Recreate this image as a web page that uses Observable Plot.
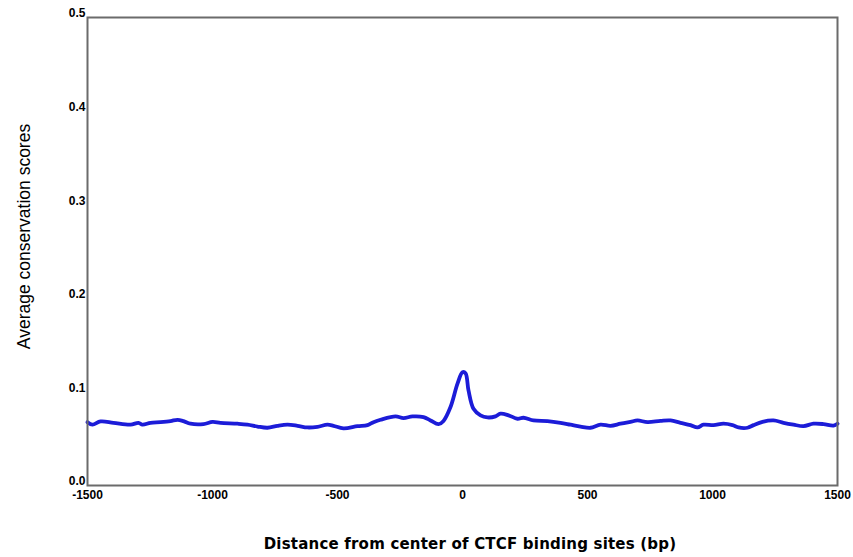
<!DOCTYPE html>
<html>
<head>
<meta charset="utf-8">
<script src="https://cdn.jsdelivr.net/npm/d3@7"></script>
<script src="https://cdn.jsdelivr.net/npm/@observablehq/plot@0.6"></script>
<style>
  html, body { margin: 0; padding: 0; background: #fff; }
  #chart svg { display: block; }
  #chart g[aria-label="x-axis tick label"] text,
  #chart g[aria-label="y-axis tick label"] text {
    font-family: "Liberation Sans", Arial, sans-serif;
    font-weight: bold;
    font-size: 12px;
    fill: #000;
  }
</style>
</head>
<body>
<div id="chart"></div>
<script>
// Distance from center of CTCF binding sites (bp)
const positions = [
  -1500, -1480, -1448, -1396, -1328, -1296, -1280, -1248, -1208, -1168,
  -1140, -1116, -1088, -1036, -1000, -968, -900, -860, -820, -780,
  -740, -700, -660, -620, -580, -540, -516, -476, -420, -380,
  -356, -328, -268, -236, -200, -156, -128, -96, -76, -48,
  -20, 0, 12, 24, 44, 72, 100, 132, 152, 184,
  220, 244, 284, 340, 392, 432, 472, 512, 552, 592,
  632, 672, 700, 740, 792, 832, 872, 912, 940, 964,
  1004, 1044, 1080, 1104, 1140, 1164, 1200, 1244, 1284, 1324,
  1364, 1404, 1444, 1484, 1500
];
// Average conservation scores
const scores = [
  0.0677, 0.0650, 0.0684, 0.0670, 0.0650, 0.0670, 0.0650, 0.0670, 0.0677, 0.0688,
  0.0702, 0.0688, 0.0660, 0.0656, 0.0680, 0.0670, 0.0660, 0.0650, 0.0630, 0.0617,
  0.0638, 0.0650, 0.0638, 0.0620, 0.0627, 0.0650, 0.0638, 0.0610, 0.0634, 0.0645,
  0.0677, 0.0702, 0.0738, 0.0720, 0.0738, 0.0731, 0.0695, 0.0655, 0.0690, 0.0838,
  0.1088, 0.1210, 0.1200, 0.1016, 0.0820, 0.0750, 0.0727, 0.0738, 0.0767, 0.0750,
  0.0713, 0.0724, 0.0695, 0.0688, 0.0670, 0.0650, 0.0630, 0.0617, 0.0650, 0.0638,
  0.0660, 0.0680, 0.0695, 0.0677, 0.0690, 0.0695, 0.0670, 0.0645, 0.0620, 0.0650,
  0.0645, 0.0660, 0.0645, 0.0620, 0.0617, 0.0645, 0.0680, 0.0695, 0.0670, 0.0650,
  0.0634, 0.0660, 0.0656, 0.0640, 0.0660
];
const xTicks = [-1500, -1000, -500, 0, 500, 1000, 1500];
const yTicks = [0.0, 0.1, 0.2, 0.3, 0.4, 0.5];
const xTitle = "Distance from center of CTCF binding sites (bp)";
const yTitle = "Average conservation scores";

const data = positions.map((x, i) => ({x, y: scores[i]}));

const chart = Plot.plot({
  width: 853,
  height: 557,
  marginLeft: 87,
  marginRight: 16,
  marginTop: 17,
  marginBottom: 72,
  style: {fontFamily: "Liberation Sans, Arial, sans-serif", background: "#fff"},
  x: {domain: [-1500, 1500]},
  y: {domain: [0, 0.5]},
  marks: [
    Plot.axisX({ticks: xTicks, tickSize: 0, tickPadding: 5, tickFormat: d => String(d), label: null}),
    Plot.axisY({ticks: yTicks, tickSize: 0, tickPadding: 2, tickFormat: d3.format(".1f"), dy: -4, label: null}),
    Plot.lineY(data, {x: "x", y: "y", stroke: "#1c1cd8", strokeWidth: 3.8, curve: "catmull-rom"}),
    Plot.frame({stroke: "#6b6b6b", strokeWidth: 2})
  ]
});

const svg = d3.select(chart);
svg.append("text")
  .attr("transform", "translate(24,236.5) rotate(-90)")
  .attr("text-anchor", "middle")
  .attr("dominant-baseline", "central")
  .style("font-family", "Liberation Sans, Arial, sans-serif")
  .style("font-size", "17.5px")
  .style("fill", "#000")
  .text(yTitle);
svg.append("text")
  .attr("x", 470)
  .attr("y", 549)
  .attr("text-anchor", "middle")
  .style("font-family", "DejaVu Sans, Verdana, sans-serif")
  .style("font-weight", "bold")
  .style("font-size", "15px")
  .style("letter-spacing", "0.2px")
  .style("fill", "#000")
  .text(xTitle);

document.getElementById("chart").appendChild(chart);
</script>
</body>
</html>
